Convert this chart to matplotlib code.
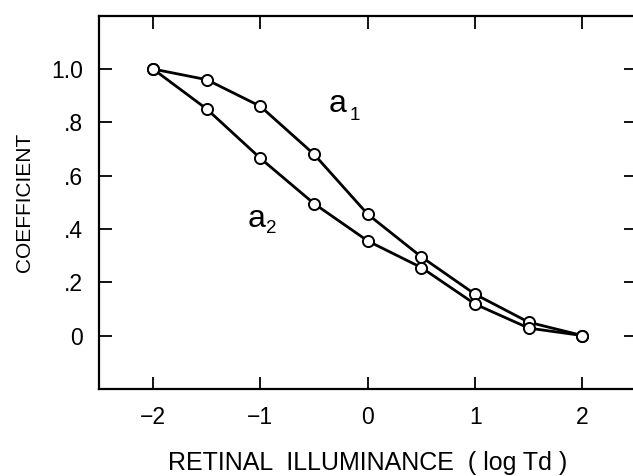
import numpy as np
import matplotlib
matplotlib.use("Agg")
import matplotlib.pyplot as plt

plt.rcParams['font.family'] = ['Liberation Sans', 'DejaVu Sans']

# log retinal illuminance (log Td)
log_td = [-2, -1.5, -1, -0.5, 0, 0.5, 1, 1.5, 2]
a1 = [1.0, 0.96, 0.86, 0.68, 0.455, 0.295, 0.155, 0.05, 0.0]
a2 = [1.0, 0.85, 0.665, 0.495, 0.355, 0.255, 0.118, 0.028, 0.0]

xticks = [-2, -1, 0, 1, 2]
xtick_labels = ['\u22122', '\u22121', '0', '1', '2']
yticks = [0, 0.2, 0.4, 0.6, 0.8, 1.0]
ytick_labels = ['0', '.2', '.4', '.6', '.8', '1.0']

fig = plt.figure(figsize=(6.33, 4.76), dpi=100)
ax = fig.add_axes([0.157, 0.183, 0.848, 0.784])

for ys in (a1, a2):
    ax.plot(log_td, ys, color='black', lw=2.0, marker='o', ms=8,
            mfc='white', mec='black', mew=1.4, zorder=3)

ax.set_xlim(-2.5, 2.5)
ax.set_ylim(-0.2, 1.2)
ax.set_xticks(xticks)
ax.set_xticklabels(xtick_labels)
ax.set_yticks(yticks)
ax.set_yticklabels(ytick_labels)
ax.tick_params(direction='in', length=9, width=1.3, top=True, right=True,
               labelsize=16.5)
ax.tick_params(axis='x', pad=12)
ax.tick_params(axis='y', pad=12)
for sp in ax.spines.values():
    sp.set_linewidth(1.6)

# curve labels
ax.text(-0.364, 0.837, 'a', fontsize=23)
ax.text(-0.165, 0.809, '1', fontsize=13.5)
ax.text(-1.121, 0.407, 'a', fontsize=23)
ax.text(-0.945, 0.384, '2', fontsize=13.5)

ax.set_xlabel('RETINAL  ILLUMINANCE  ( log Td )', fontsize=18, labelpad=16)
ax.set_ylabel('COEFFICIENT', fontsize=15, labelpad=12)

fig.savefig('out.png', dpi=100, facecolor='white')
